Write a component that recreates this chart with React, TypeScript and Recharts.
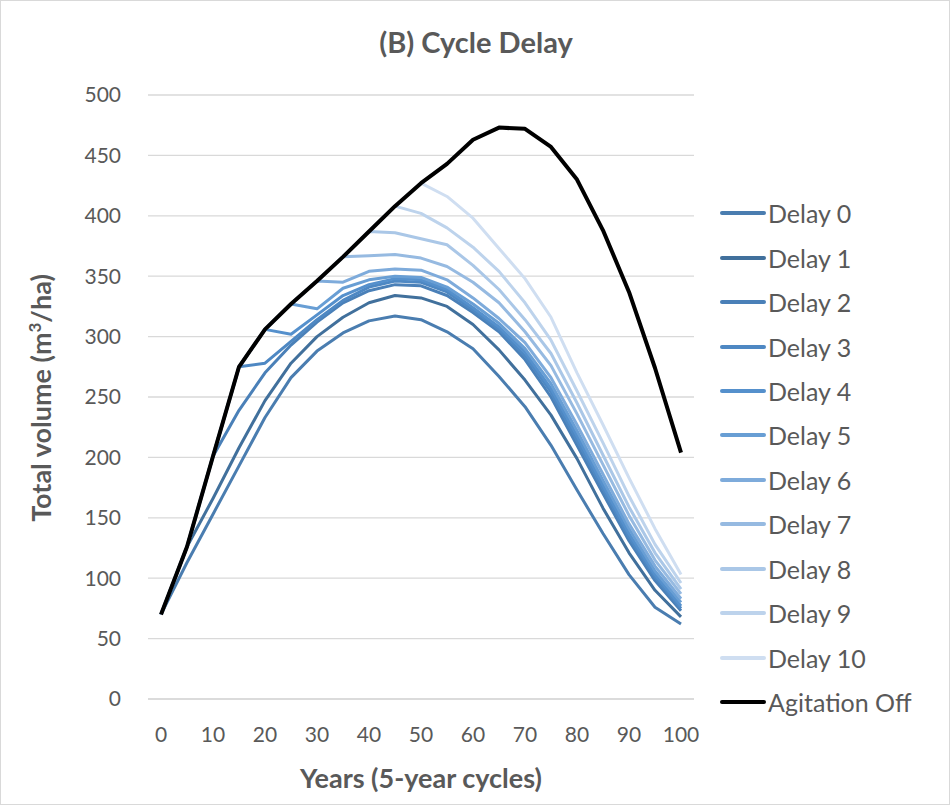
import React from 'react';
import { LineChart, Line, XAxis, YAxis, CartesianGrid, Legend } from 'recharts';

const FONT = 'Lato, "Open Sans", sans-serif';
const TEXT = '#595959';
const GRID = '#d9d9d9';

// years of each 5-year cycle
const years = [0, 5, 10, 15, 20, 25, 30, 35, 40, 45, 50, 55, 60, 65, 70, 75, 80, 85, 90, 95, 100];
const xTicks = [0, 10, 20, 30, 40, 50, 60, 70, 80, 90, 100];
const yTicks = [0, 50, 100, 150, 200, 250, 300, 350, 400, 450, 500];

const delay0 = [70, 113, 153, 193, 233, 266, 288, 303, 313, 317, 314, 304, 290, 267, 242, 210, 173, 137, 103, 76, 62];
const delay1 = [70, 126, 166, 208, 247, 278, 300, 316, 328, 334, 332, 325, 310, 289, 264, 235, 199, 158, 121, 90, 68];
const delay2 = [70, 126, 201, 239, 270, 293, 312, 328, 338, 343, 342, 334, 320, 304, 281, 250, 210, 170, 131, 98, 73];
const delay3 = [70, 126, 201, 275, 278, 296, 314, 330, 341, 346, 345, 337, 322, 306, 284, 254, 214, 174, 134, 101, 75];
const delay4 = [70, 126, 201, 275, 306, 302, 318, 334, 343, 348, 347, 339, 324, 308, 287, 257, 218, 177, 137, 103, 77];
const delay5 = [70, 126, 201, 275, 306, 327, 323, 340, 347, 350, 349, 341, 327, 311, 290, 261, 222, 181, 141, 106, 80];
const delay6 = [70, 126, 201, 275, 306, 327, 346, 345, 354, 356, 355, 347, 332, 315, 295, 266, 227, 186, 145, 110, 83];
const delay7 = [70, 126, 201, 275, 306, 327, 346, 366, 367, 368, 365, 358, 345, 328, 304, 276, 236, 194, 152, 115, 87];
const delay8 = [70, 126, 201, 275, 306, 327, 346, 366, 387, 386, 381, 376, 359, 339, 314, 286, 245, 202, 159, 121, 91];
const delay9 = [70, 126, 201, 275, 306, 327, 346, 366, 387, 408, 402, 390, 374, 354, 328, 297, 255, 212, 168, 128, 96];
const delay10 = [70, 126, 201, 275, 306, 327, 346, 366, 387, 408, 427, 416, 398, 373, 348, 316, 270, 227, 183, 141, 103];
const agitationOff = [70, 126, 201, 275, 306, 327, 346, 366, 387, 408, 427, 443, 463, 473, 472, 457, 430, 388, 337, 274, 204];

const series = [
  { key: 'd0', name: 'Delay 0', values: delay0, color: '#4a7db0', width: 3 },
  { key: 'd1', name: 'Delay 1', values: delay1, color: '#41709c', width: 3 },
  { key: 'd2', name: 'Delay 2', values: delay2, color: '#4a80b8', width: 3 },
  { key: 'd3', name: 'Delay 3', values: delay3, color: '#4e88c3', width: 3 },
  { key: 'd4', name: 'Delay 4', values: delay4, color: '#5590cc', width: 3 },
  { key: 'd5', name: 'Delay 5', values: delay5, color: '#689ed4', width: 3 },
  { key: 'd6', name: 'Delay 6', values: delay6, color: '#7eabdb', width: 3 },
  { key: 'd7', name: 'Delay 7', values: delay7, color: '#96bae1', width: 3 },
  { key: 'd8', name: 'Delay 8', values: delay8, color: '#aac7e7', width: 3 },
  { key: 'd9', name: 'Delay 9', values: delay9, color: '#bdd3ec', width: 3 },
  { key: 'd10', name: 'Delay 10', values: delay10, color: '#cfdef1', width: 3 },
  { key: 'off', name: 'Agitation Off', values: agitationOff, color: '#000000', width: 4 },
];

const data = years.map((year, i) => {
  const row: Record<string, number> = { year };
  series.forEach((s) => {
    row[s.key] = s.values[i];
  });
  return row;
});

function LegendList() {
  return (
    <div style={{ fontFamily: FONT }}>
      {series.map((s) => (
        <div
          key={s.key}
          style={{ display: 'flex', alignItems: 'center', height: 44.45 }}
        >
          <svg width={48} height={10}>
            <line x1={3} y1={5} x2={45} y2={5} stroke={s.color} strokeWidth={4} strokeLinecap="round" />
          </svg>
          <span style={{ fontSize: 25, color: TEXT, marginLeft: 1 }}>{s.name}</span>
        </div>
      ))}
    </div>
  );
}

export default function App() {
  return (
    <div
      style={{
        position: 'absolute',
        left: 0,
        top: 0,
        width: 950,
        height: 805,
        boxSizing: 'border-box',
        border: `1px solid ${GRID}`,
        background: '#fff',
        overflow: 'hidden',
      }}
    >
      <div
        style={{
          position: 'absolute',
          top: 22,
          left: 0,
          width: 950,
          textAlign: 'center',
          fontFamily: FONT,
          fontWeight: 700,
          fontSize: 29,
          lineHeight: '38px',
          color: TEXT,
        }}
      >
        (B) Cycle Delay
      </div>
      <div
        style={{
          position: 'absolute',
          top: 759,
          left: 147,
          width: 546,
          textAlign: 'center',
          fontFamily: FONT,
          fontWeight: 700,
          fontSize: 27,
          lineHeight: '36px',
          color: TEXT,
        }}
      >
        Years (5-year cycles)
      </div>
      <div
        style={{
          position: 'absolute',
          top: 379,
          left: -210,
          width: 500,
          textAlign: 'center',
          transform: 'rotate(-90deg)',
          fontFamily: FONT,
          fontWeight: 700,
          fontSize: 27,
          lineHeight: '36px',
          color: TEXT,
        }}
      >
        Total volume (m<sup style={{ fontSize: 17, lineHeight: 0 }}>3</sup>/ha)
      </div>
      <LineChart
        width={948}
        height={803}
        data={data}
        margin={{ top: 94, right: 255, bottom: 0, left: 0 }}
        style={{ position: 'absolute', left: 0, top: 0 }}
      >
        <CartesianGrid stroke={GRID} strokeWidth={1.3} vertical={false} />
        <XAxis
          dataKey="year"
          type="number"
          domain={[-2.5, 102.5]}
          ticks={xTicks}
          height={105}
          tickSize={0}
          tickMargin={28}
          stroke={GRID}
          strokeWidth={1.3}
          tick={{ fill: TEXT, fontSize: 21, fontFamily: FONT }}
        />
        <YAxis
          type="number"
          domain={[0, 500]}
          ticks={yTicks}
          width={147}
          tickSize={0}
          tickMargin={27}
          axisLine={false}
          tick={{ fill: TEXT, fontSize: 21, fontFamily: FONT }}
        />
        {series.map((s) => (
          <Line
            key={s.key}
            dataKey={s.key}
            name={s.name}
            stroke={s.color}
            strokeWidth={s.width}
            dot={false}
            activeDot={false}
            strokeLinejoin="round"
            isAnimationActive={false}
          />
        ))}
        <Legend
          layout="vertical"
          align="center"
          verticalAlign="middle"
          content={() => <LegendList />}
          wrapperStyle={{ left: 718, top: 190, width: 230 }}
        />
      </LineChart>
    </div>
  );
}
